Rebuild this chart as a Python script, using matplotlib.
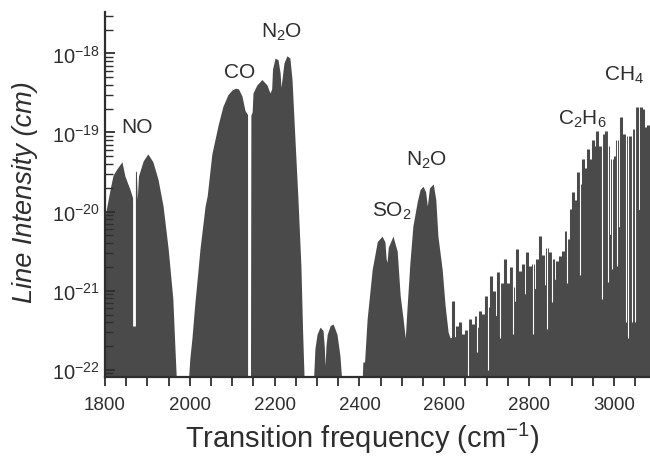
import matplotlib
matplotlib.use("Agg")
import matplotlib.pyplot as plt
import numpy as np
from matplotlib.ticker import FixedLocator, LogLocator, MultipleLocator, NullFormatter

plt.rcParams['font.family'] = ['Liberation Sans', 'DejaVu Sans']
plt.rcParams['mathtext.fontset'] = 'custom'
plt.rcParams['mathtext.rm'] = 'Liberation Sans'
plt.rcParams['mathtext.it'] = 'Liberation Sans:italic'
plt.rcParams['mathtext.bf'] = 'Liberation Sans:bold'

# band envelopes: frequency (cm-1), log10 line intensity (cm)
noFreq = [1800, 1812, 1819, 1828, 1840, 1847, 1859, 1866, 1868, 1871, 1874, 1876, 1879, 1890, 1901, 1913, 1925, 1937, 1949, 1960, 1965, 1969]
noLog = [-20.06, -19.72, -19.54, -19.46, -19.37, -19.55, -19.72, -19.84, -19.9, -19.49, -19.49, -19.85, -19.55, -19.36, -19.27, -19.37, -19.59, -19.93, -20.47, -21.1, -21.73, -22.2]

coFreq = [1996, 2000, 2005, 2012, 2019, 2024, 2036, 2041, 2052, 2067, 2078, 2090, 2100, 2108, 2115, 2123, 2130, 2137, 2138]
coLog = [-22.2, -21.86, -21.6, -21.15, -20.76, -20.47, -19.93, -19.8, -19.27, -18.9, -18.67, -18.52, -18.46, -18.44, -18.45, -18.54, -18.72, -18.78, -22.2]

n2oFreq = [2143, 2144, 2147, 2149, 2158, 2170, 2182, 2189, 2193, 2195, 2201, 2208, 2213, 2215, 2218, 2222, 2229, 2236, 2241, 2248, 2255, 2262, 2266, 2270]
n2oLog = [-22.2, -18.78, -18.74, -18.5, -18.4, -18.33, -18.4, -18.5, -18.45, -18.2, -18.06, -18.08, -18.25, -18.43, -18.3, -18.12, -18.03, -18.06, -18.33, -19.09, -19.84, -20.69, -21.52, -22.2]

smallFreq = [2291, 2295, 2300, 2307, 2314, 2317, 2319, 2321, 2324, 2331, 2338, 2347, 2354, 2359]
smallLog = [-22.2, -21.73, -21.55, -21.46, -21.5, -21.7, -21.95, -21.7, -21.55, -21.44, -21.42, -21.55, -21.82, -22.2]

so2Freq = [2406, 2408, 2412, 2418, 2430, 2442, 2453, 2460, 2463, 2465, 2468, 2479, 2489, 2496, 2503, 2508, 2512, 2519, 2526, 2536, 2543, 2550, 2556, 2560, 2565, 2574, 2580, 2585, 2595, 2602, 2609, 2614]
so2Log = [-22.2, -21.9, -21.9, -21.36, -20.73, -20.38, -20.31, -20.38, -20.6, -20.64, -20.45, -20.31, -20.5, -21.06, -21.36, -21.6, -21.23, -20.64, -20.18, -19.88, -19.72, -19.68, -19.75, -19.93, -19.7, -19.65, -19.85, -20.31, -20.73, -21.19, -21.52, -21.6]

baseFreq = [2609, 2650, 2700, 2750, 2800, 2850, 2900, 2950, 3000, 3050, 3085]
baseLog = [-21.6, -21.55, -21.4, -21.2, -21.0, -20.9, -20.7, -20.45, -20.25, -20.0, -19.9]

# individual lines of the CH4 / C2H6 region
stickFreq = [2621, 2630, 2637, 2644, 2652, 2661, 2668, 2675, 2684, 2692, 2698, 2705, 2711, 2718, 2727, 2736,
             2743, 2750, 2757, 2763, 2772, 2779, 2786, 2795, 2802, 2809, 2819, 2826, 2833, 2842, 2850, 2857,
             2866, 2873, 2880, 2887, 2892, 2899, 2904, 2911, 2916, 2923, 2927, 2932, 2939, 2946, 2951, 2956,
             2960, 2967, 2975, 2982, 2986, 2996, 3003, 3008, 3017, 3024, 3031, 3038, 3045, 3055, 3064, 3069,
             3074, 3081]
stickLog = [-21.13, -21.45, -21.39, -21.55, -21.5, -21.36, -21.42, -21.32, -21.25, -21.3, -21.07, -21.2, -20.81, -21.0, -20.76, -20.9,
            -20.6, -20.9, -20.7, -20.95, -20.47, -20.75, -20.66, -20.51, -20.69, -20.66, -20.6, -20.31, -20.55, -20.46, -20.51, -20.6,
            -20.62, -20.56, -20.5, -20.25, -20.35, -19.97, -19.75, -19.85, -19.5, -19.65, -19.34, -19.45, -19.21, -19.34, -19.09, -19.17,
            -18.98, -19.17, -19.02, -18.98, -19.17, -19.34, -19.3, -19.09, -18.8, -19.02, -19.05, -19.05, -18.96, -18.68, -18.68, -18.7,
            -18.93, -18.9]

# band-centre gaps and the deeper gaps between lines (depth as log10 intensity)
centreGapFreq = [1869.5, 2140.5]
centreGapLog = [-21.45, -22.2]
lineGapFreq = [2656, 2677, 2703, 2732, 2762, 2809, 2842, 2854, 2890, 2920, 2972, 2986, 2996, 3008, 3029, 3033, 3043, 3050]
lineGapLog = [-22.2, -21.77, -22.0, -21.6, -21.55, -21.55, -21.48, -21.14, -20.9, -20.8, -21.1, -20.89, -20.73, -20.69, -21.39, -21.6, -21.39, -21.39]

yTicks = [1e-22, 1e-21, 1e-20, 1e-19, 1e-18]

ink = '#4a4a4a'
textColor = '#2e2e2e'
floor = 1e-23
top = 1e-17


def main():
    fig = plt.figure(figsize=(6.5, 4.6), dpi=100)
    ax = fig.add_axes([0.1615, 0.178, 0.8385, 0.793])
    ax.set_yscale('log')

    for f, l in [(noFreq, noLog), (coFreq, coLog), (n2oFreq, n2oLog), (smallFreq, smallLog), (so2Freq, so2Log), (baseFreq, baseLog)]:
        ax.fill_between(f, floor, 10 ** np.array(l), color=ink, lw=0)
    ax.vlines(stickFreq, floor, 10 ** np.array(stickLog), color=ink, lw=2.2)
    ax.vlines(centreGapFreq, 10 ** np.array(centreGapLog), top, color='white', lw=2.0)
    ax.vlines(lineGapFreq, 10 ** np.array(lineGapLog), top, color='white', lw=0.8)

    ax.set_xlim(1800, 3085)
    ax.set_ylim(8.1e-23, 3.3e-18)

    ax.xaxis.set_major_locator(MultipleLocator(200))
    ax.xaxis.set_minor_locator(MultipleLocator(50))
    ax.yaxis.set_major_locator(FixedLocator(yTicks))
    ax.yaxis.set_minor_locator(LogLocator(base=10, subs=np.arange(2, 10), numticks=12))
    ax.yaxis.set_minor_formatter(NullFormatter())

    ax.tick_params(axis='x', which='both', direction='out', length=6.5, width=1.3, colors=textColor, labelsize=13.5, pad=7)
    ax.tick_params(axis='y', which='major', direction='in', length=7, width=1.3, colors=textColor, labelsize=14.5, pad=4)
    ax.tick_params(axis='y', which='minor', direction='in', length=6, width=1.0, colors=textColor)

    for side in ['top', 'right']:
        ax.spines[side].set_visible(False)
    for side in ['left', 'bottom']:
        ax.spines[side].set_linewidth(1.6)
        ax.spines[side].set_color(textColor)

    ax.set_xlabel('Transition frequency (cm$^{-1}$)', fontsize=21, color=textColor, va='top', ha='center')
    ax.xaxis.set_label_coords(0.473, -0.118)
    ax.set_ylabel('Line Intensity (cm)', fontsize=19.5, style='italic', color=textColor)
    ax.yaxis.set_label_coords(-0.123, 0.51)

    labels = [('NO', 1875, -18.92), ('CO', 2118, -18.23), ('N$_2$O', 2217, -17.72), ('SO$_2$', 2477, -19.99),
              ('N$_2$O', 2559, -19.34), ('C$_2$H$_6$', 2925, -18.82), ('CH$_4$', 3024, -18.27)]
    for text, f, l in labels:
        ax.text(f, 10 ** l, text, fontsize=15, color=textColor, ha='center', va='center', zorder=5)

    fig.savefig('out.png', dpi=100)
    plt.close(fig)


if __name__ == "__main__":
    main()
